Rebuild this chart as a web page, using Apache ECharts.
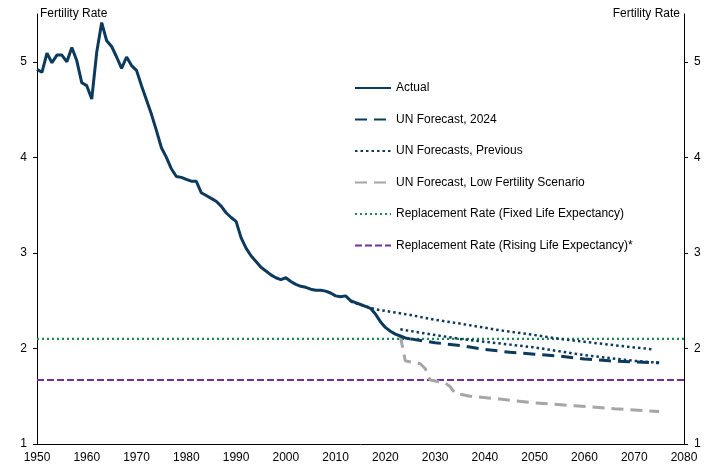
<!DOCTYPE html>
<html>
<head>
<meta charset="utf-8">
<script src="https://cdn.jsdelivr.net/npm/echarts@6/dist/echarts.min.js"></script>
<style>
html,body{margin:0;padding:0;background:#fff;}
#c{width:720px;height:474px;}
</style>
</head>
<body>
<div id="c"></div>
<script>
// Actual fertility rate, annual from 1950
var actualStartYear = 1950;
var actualValues = [
  4.92, 4.89, 5.09, 4.99, 5.07, 5.07, 5.00, 5.15, 5.01, 4.78,
  4.75, 4.61, 5.10, 5.41, 5.22, 5.16, 5.05, 4.93, 5.05, 4.96,
  4.91, 4.75, 4.60, 4.45, 4.28, 4.10, 4.00, 3.88, 3.80, 3.79,
  3.77, 3.75, 3.75, 3.63, 3.60, 3.57, 3.54, 3.49, 3.42, 3.37,
  3.33, 3.16, 3.05, 2.97, 2.91, 2.85, 2.81, 2.77, 2.74, 2.72,
  2.74, 2.70, 2.67, 2.65, 2.64, 2.62, 2.61, 2.61, 2.60, 2.58,
  2.55, 2.54, 2.55, 2.50, 2.48, 2.46, 2.44, 2.42, 2.36, 2.28,
  2.22, 2.18, 2.15, 2.13, 2.11, 2.10
];
var un2024Years  = [2025, 2030, 2035, 2040, 2045, 2050, 2055, 2060, 2065, 2070, 2075];
var un2024Values = [2.10, 2.06, 2.03, 1.99, 1.96, 1.94, 1.92, 1.89, 1.87, 1.86, 1.85];

var prevAYears  = [2013, 2018, 2025, 2030, 2035, 2043, 2050, 2055, 2060, 2065, 2070, 2074];
var prevAValues = [2.49, 2.41, 2.35, 2.30, 2.26, 2.19, 2.14, 2.10, 2.07, 2.04, 2.01, 1.99];
var prevBYears  = [2023, 2030, 2035, 2040, 2045, 2050, 2055, 2060, 2065, 2070, 2075];
var prevBValues = [2.20, 2.14, 2.10, 2.07, 2.04, 2.01, 1.97, 1.93, 1.90, 1.87, 1.85];

var lowYears  = [2023, 2024, 2027, 2028, 2029, 2032, 2033, 2034, 2037, 2043, 2050, 2058, 2066, 2075];
var lowValues = [2.13, 1.87, 1.84, 1.79, 1.67, 1.64, 1.60, 1.53, 1.50, 1.47, 1.43, 1.40, 1.37, 1.34];

var replaceYears = [1950, 2080];
var replaceFixed = 2.10;
var replaceRising = 1.67;

var yTicks = [1, 2, 3, 4, 5];

function pairs(xs, ys) { return xs.map(function (x, i) { return [x, ys[i]]; }); }
var actualData = actualValues.map(function (v, i) { return [actualStartYear + i, v]; });

var navy = '#0c3a5d';
var font = 'Liberation Sans, Arial, sans-serif';

var chart = echarts.init(document.getElementById('c'), null, {renderer: 'canvas'});

function yAxisCfg(pos) {
  var right = pos === 'right';
  return {
    type: 'value', position: pos, min: 1, max: 5.5, interval: 1,
    name: 'Fertility Rate', nameLocation: 'end', nameGap: 0,
    nameTextStyle: {
      fontFamily: font, fontSize: 12, color: '#000',
      align: right ? 'right' : 'left', verticalAlign: 'middle',
      padding: right ? [0, 4, 0, 0] : [0, 0, 0, 3]
    },
    axisLine: {show: true, lineStyle: {color: '#000', width: 1}},
    axisTick: {show: true, inside: false, length: 4, customValues: yTicks, lineStyle: {color: '#000'}},
    axisLabel: {customValues: yTicks, margin: 10, fontFamily: font, fontSize: 12, color: '#000'},
    splitLine: {show: false}
  };
}

chart.setOption({
  animation: false,
  backgroundColor: '#fff',
  grid: {left: 37, right: 36, top: 14, bottom: 30, containLabel: false, outerBoundsMode: 'none'},
  legend: {
    orient: 'vertical', left: 354, top: 82, padding: 0,
    itemWidth: 36, itemHeight: 14, itemGap: 19.5,
    itemStyle: {opacity: 0},
    textStyle: {fontFamily: font, fontSize: 12, color: '#000'},
    data: ['Actual', 'UN Forecast, 2024', 'UN Forecasts, Previous',
           'UN Forecast, Low Fertility Scenario',
           'Replacement Rate (Fixed Life Expectancy)',
           'Replacement Rate (Rising Life Expectancy)*']
  },
  xAxis: {
    type: 'value', min: 1950, max: 2080, interval: 10,
    axisLine: {show: true, onZero: false, lineStyle: {color: '#000', width: 1}},
    axisTick: {show: false},
    axisLabel: {margin: 8, fontFamily: font, fontSize: 12, color: '#000',
      formatter: function (v) { return String(v); }},
    splitLine: {show: false}
  },
  yAxis: [yAxisCfg('left'), yAxisCfg('right')],
  series: [
    {name: 'Replacement Rate (Fixed Life Expectancy)', type: 'line', symbol: 'none',
     data: replaceYears.map(function (x) { return [x, replaceFixed]; }),
     lineStyle: {color: '#1e8a4e', width: 2.2, type: [2, 3]}, itemStyle: {color: '#1e8a4e'}},
    {name: 'Replacement Rate (Rising Life Expectancy)*', type: 'line', symbol: 'none',
     data: replaceYears.map(function (x) { return [x, replaceRising]; }),
     lineStyle: {color: '#7030a0', width: 2, type: [7, 3]}, itemStyle: {color: '#7030a0'}},
    {name: 'UN Forecast, Low Fertility Scenario', type: 'line', symbol: 'none',
     data: pairs(lowYears, lowValues),
     lineStyle: {color: '#a6a6a6', width: 3, type: [12, 7]}, itemStyle: {color: '#a6a6a6'}},
    {name: 'UN Forecasts, Previous', type: 'line', symbol: 'none',
     data: pairs(prevAYears, prevAValues),
     lineStyle: {color: navy, width: 2.5, type: [2.5, 3]}, itemStyle: {color: navy}},
    {name: 'UN Forecasts, Previous', type: 'line', symbol: 'none',
     data: pairs(prevBYears, prevBValues),
     lineStyle: {color: navy, width: 2.5, type: [2.5, 3]}, itemStyle: {color: navy}},
    {name: 'UN Forecast, 2024', type: 'line', symbol: 'none',
     data: pairs(un2024Years, un2024Values),
     lineStyle: {color: navy, width: 3, type: [12, 7]}, itemStyle: {color: navy}},
    {name: 'Actual', type: 'line', symbol: 'none',
     data: actualData,
     lineStyle: {color: navy, width: 3}, itemStyle: {color: navy}}
  ]
});
</script>
</body>
</html>
